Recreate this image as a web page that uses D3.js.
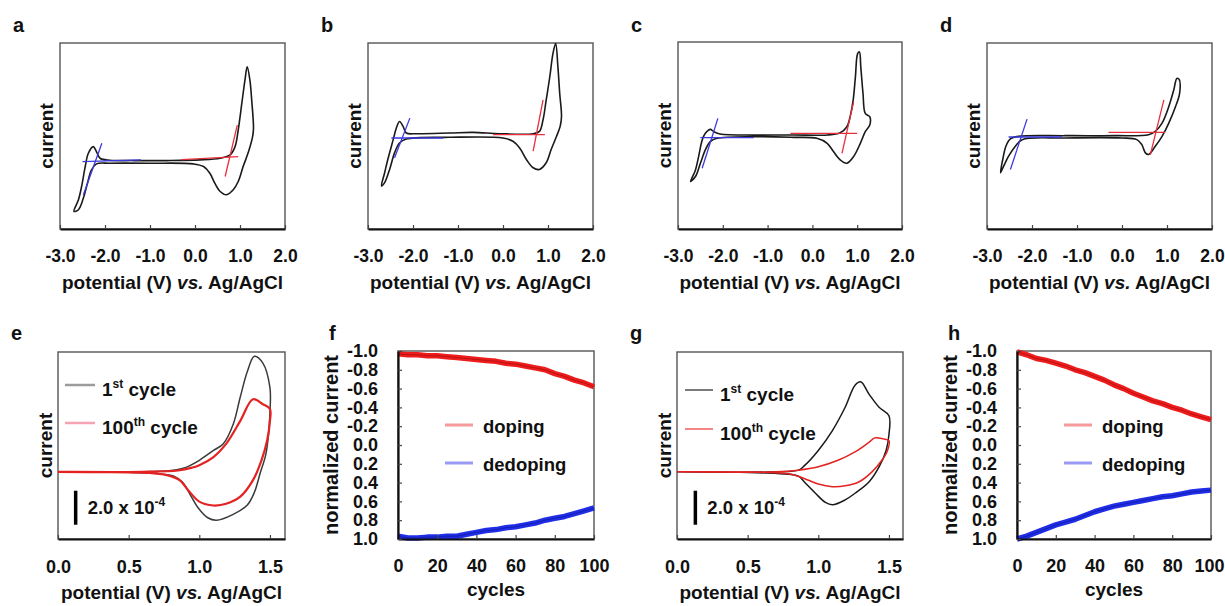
<!DOCTYPE html>
<html>
<head>
<meta charset="utf-8">
<script src="https://cdn.jsdelivr.net/npm/d3@7"></script>
<style>
  body { margin: 0; background: #fff; }
  svg text { font-family: "Liberation Sans", Arial, sans-serif; font-weight: bold; fill: #111; }
</style>
</head>
<body>
<svg id="fig" width="1225" height="606"></svg>
<script>
// ---- data ----
// top row cyclic voltammograms, [potential V, current (arb.)]
const cvA = [[-2.69,-1.50],[-2.59,-1.15],[-2.52,-0.75],[-2.44,-0.15],[-2.37,0.25],[-2.26,0.45],[-2.19,0.30],[-2.11,0.10],
  [-1.89,0.04],[-1.37,0.03],[-0.63,0.03],[0.11,0.05],[0.56,0.10],[0.78,0.20],[0.89,0.45],[0.96,0.95],[1.04,1.75],
  [1.11,2.45],[1.16,2.85],[1.22,2.45],[1.26,1.85],[1.30,1.00],[1.28,0.75],[1.19,0.30],[1.07,-0.15],[0.96,-0.60],
  [0.85,-0.85],[0.70,-1.00],[0.56,-0.90],[0.44,-0.65],[0.33,-0.35],[0.19,-0.15],[-0.04,-0.07],[-1.00,-0.05],
  [-1.89,-0.05],[-2.19,-0.07],[-2.30,-0.25],[-2.39,-0.65],[-2.48,-1.10],[-2.59,-1.45]];
const cvB = [[-2.70,-1.50],[-2.63,-1.10],[-2.56,-0.70],[-2.44,-0.10],[-2.37,0.25],[-2.30,0.45],[-2.22,0.30],[-2.15,0.10],
  [-1.93,0.08],[-1.19,0.10],[-0.67,0.12],[-0.07,0.08],[0.67,0.08],[0.81,0.15],[0.89,0.50],[0.96,1.10],[1.04,1.80],
  [1.11,2.50],[1.17,2.80],[1.22,2.10],[1.26,1.30],[1.30,0.60],[1.27,0.30],[1.19,0.00],[1.07,-0.40],[0.96,-0.80],
  [0.81,-1.00],[0.67,-0.95],[0.52,-0.70],[0.37,-0.35],[0.22,-0.15],[0.00,-0.05],[-1.19,-0.03],[-2.15,-0.08],
  [-2.30,-0.20],[-2.41,-0.50],[-2.52,-1.00],[-2.63,-1.40]];
const cvC = [[-2.72,-1.40],[-2.61,-1.05],[-2.54,-0.65],[-2.46,-0.15],[-2.39,0.05],[-2.28,0.17],[-2.20,0.10],[-2.06,0.03],
  [-1.16,0.00],[-0.42,0.00],[0.33,0.00],[0.62,0.07],[0.77,0.25],[0.85,0.60],[0.91,1.05],[0.96,1.75],[1.01,2.45],
  [1.05,2.50],[1.08,2.05],[1.13,1.25],[1.18,0.65],[1.28,0.55],[1.28,0.30],[1.18,0.10],[1.07,-0.25],[0.92,-0.65],
  [0.77,-0.85],[0.62,-0.75],[0.47,-0.50],[0.33,-0.25],[0.10,-0.10],[-0.42,-0.07],[-1.31,-0.05],[-2.13,-0.10],
  [-2.28,-0.20],[-2.39,-0.45],[-2.50,-0.85],[-2.61,-1.25]];
const cvD = [[-2.70,-1.10],[-2.65,-0.70],[-2.58,-0.30],[-2.48,-0.08],[-2.30,0.00],[-1.26,0.02],[-0.15,0.02],[0.59,0.05],
  [0.74,0.15],[0.89,0.40],[1.04,0.90],[1.15,1.40],[1.22,1.75],[1.27,1.72],[1.28,1.30],[1.19,0.90],[1.04,0.40],
  [0.89,0.00],[0.74,-0.30],[0.59,-0.55],[0.52,-0.50],[0.44,-0.25],[0.33,-0.10],[0.00,-0.05],[-1.26,-0.05],
  [-2.22,-0.10],[-2.37,-0.30],[-2.52,-0.60],[-2.63,-0.90]];

// onset tangent lines (red = doping, blue = dedoping)
const redTangentsA = [[[-0.30,0.06],[0.96,0.15]], [[0.67,-0.45],[0.94,1.10]]];
const blueTangentsA = [[[-2.50,0.00],[-1.20,0.05]], [[-2.48,-1.00],[-2.07,0.55]]];
const redTangentsB = [[[-0.22,0.05],[0.93,0.05]], [[0.67,-0.45],[0.89,1.10]]];
const blueTangentsB = [[[-2.48,-0.05],[-1.33,-0.05]], [[-2.41,-0.65],[-2.07,0.55]]];
const redTangentsC = [[[-0.49,0.05],[1.00,0.05]], [[0.66,-0.55],[0.92,1.00]]];
const blueTangentsC = [[[-2.50,-0.08],[-1.31,-0.08]], [[-2.46,-1.00],[-2.11,0.50]]];
const redTangentsD = [[[-0.30,0.12],[0.96,0.12]], [[0.63,-0.55],[0.93,1.10]]];
const blueTangentsD = [[[-2.52,-0.02],[-1.33,-0.02]], [[-2.48,-1.00],[-2.11,0.52]]];

// bottom row CVs, current in units of 1e-4
const e1st = [[0,0],[0.5,0.0],[0.8,0.08],[0.9,0.25],[1.0,0.68],[1.1,1.26],[1.17,1.65],[1.24,2.8],[1.29,4.4],[1.34,5.9],
  [1.39,6.8],[1.45,6.4],[1.5,4.95],[1.5,3.5],[1.49,2.2],[1.47,1.0],[1.43,-0.1],[1.39,-1.2],[1.34,-1.95],[1.24,-2.5],
  [1.12,-2.85],[1.06,-2.7],[0.99,-2.1],[0.93,-1.26],[0.88,-0.6],[0.82,-0.25],[0.7,-0.1],[0.5,-0.03],[0,0]];
const e100th = [[0,0],[0.6,0.0],[0.85,0.08],[0.95,0.25],[1.0,0.39],[1.1,0.87],[1.19,1.65],[1.29,3.0],[1.38,4.27],
  [1.45,3.98],[1.5,3.7],[1.5,3.0],[1.48,1.84],[1.44,0.68],[1.38,-0.49],[1.29,-1.46],[1.19,-1.88],[1.1,-1.98],
  [1.0,-1.75],[0.93,-1.17],[0.86,-0.49],[0.77,-0.19],[0.63,-0.06],[0,0]];
const g1st = [[0,0],[0.7,0.0],[0.86,0.1],[0.9,0.35],[1.0,1.26],[1.1,2.43],[1.19,3.8],[1.26,5.1],[1.3,5.3],[1.36,4.56],
  [1.43,3.8],[1.5,3.3],[1.5,2.2],[1.48,1.26],[1.43,0.29],[1.36,-0.58],[1.26,-1.26],[1.19,-1.65],[1.1,-1.94],
  [1.05,-1.8],[0.98,-1.26],[0.9,-0.58],[0.86,-0.25],[0.71,-0.1],[0,0]];
const g100th = [[0,0],[0.7,0.0],[0.86,0.1],[1.0,0.3],[1.14,0.68],[1.26,1.17],[1.36,1.75],[1.4,2.0],[1.46,1.94],
  [1.5,1.84],[1.49,1.26],[1.45,0.68],[1.38,0.0],[1.29,-0.58],[1.19,-0.82],[1.1,-0.87],[1.0,-0.72],[0.9,-0.39],
  [0.81,-0.14],[0.67,-0.04],[0,0]];

// normalized current vs cycle number
const cycles = [0,5,10,15,20,25,30,35,40,45,50,55,60,65,70,75,80,85,90,95,100];
const fDoping = [-0.97,-0.96,-0.96,-0.95,-0.95,-0.94,-0.93,-0.92,-0.91,-0.90,-0.89,-0.87,-0.86,-0.84,-0.82,-0.80,-0.76,-0.73,-0.69,-0.66,-0.62];
const fDedoping = [0.97,0.99,0.99,0.98,0.98,0.97,0.97,0.95,0.93,0.91,0.90,0.88,0.87,0.85,0.83,0.80,0.78,0.76,0.73,0.70,0.67];
const hDoping = [-0.99,-0.96,-0.92,-0.90,-0.87,-0.84,-0.80,-0.77,-0.73,-0.69,-0.64,-0.60,-0.55,-0.51,-0.47,-0.44,-0.40,-0.37,-0.33,-0.30,-0.27];
const hDedoping = [1.00,0.97,0.93,0.89,0.85,0.82,0.79,0.75,0.71,0.68,0.65,0.63,0.61,0.59,0.57,0.55,0.54,0.52,0.50,0.49,0.48];

// tick labels
const cvTicks = [-3, -2, -1, 0, 1, 2];
const zoomTicks = [0, 0.5, 1.0, 1.5];
const cycleTicks = [0, 20, 40, 60, 80, 100];
const normTicks = [-1.0, -0.8, -0.6, -0.4, -0.2, 0.0, 0.2, 0.4, 0.6, 0.8, 1.0];

const svg = d3.select("#fig");

// ---- helpers ----
function frame(box) {
  svg.append("rect")
    .attr("x", box.l).attr("y", box.t)
    .attr("width", box.r - box.l).attr("height", box.b - box.t)
    .attr("fill", "none").attr("stroke", "#555").attr("stroke-width", 1.4);
}

function styleAxis(g, size) {
  g.attr("font-size", null).attr("font-family", null);
  g.select(".domain").attr("stroke", "#111").attr("stroke-width", 2.2);
  g.selectAll(".tick line").attr("stroke", "#444").attr("stroke-width", 1.2);
  g.selectAll(".tick text").style("font-size", size + "px");
}

function letter(x, y, s) {
  svg.append("text").attr("x", x).attr("y", y).style("font-size", "20px").text(s);
}

function potentialTitle(box) {
  const t = svg.append("text")
    .attr("x", (box.l + box.r) / 2).attr("y", box.b + 60)
    .attr("text-anchor", "middle").style("font-size", "19px");
  t.append("tspan").text("potential (V) ");
  t.append("tspan").style("font-style", "italic").text("vs.");
  t.append("tspan").text(" Ag/AgCl");
}

function currentTitle(box, text, dx, size) {
  svg.append("text")
    .attr("transform", `translate(${box.l - dx},${(box.t + box.b) / 2}) rotate(-90)`)
    .attr("text-anchor", "middle").style("font-size", size + "px").text(text);
}

// ---- top row: CVs with onset tangents ----
function cvPanel(box, loop, redT, blueT, yDom, name) {
  const x = d3.scaleLinear().domain([-3, 2]).range([box.l, box.r]);
  const y = d3.scaleLinear().domain(yDom).range([box.b, box.t]);
  frame(box);

  const loopLine = d3.line().x(d => x(d[0])).y(d => y(d[1]))
    .curve(d3.curveCatmullRomClosed.alpha(0.5));
  svg.append("path").attr("d", loopLine(loop))
    .attr("fill", "none").attr("stroke", "#1a1a1a").attr("stroke-width", 1.6);

  const seg = d3.line().x(d => x(d[0])).y(d => y(d[1]));
  redT.forEach(s => svg.append("path").attr("d", seg(s))
    .attr("stroke", "#e8303c").attr("stroke-width", 1.3).attr("fill", "none"));
  blueT.forEach(s => svg.append("path").attr("d", seg(s))
    .attr("stroke", "#3a3ae0").attr("stroke-width", 1.3).attr("fill", "none"));

  const ax = svg.append("g").attr("transform", `translate(0,${box.b})`)
    .call(d3.axisBottom(x).tickValues(cvTicks).tickFormat(d => d.toFixed(1))
      .tickSizeInner(-4).tickSizeOuter(0).tickPadding(21));
  styleAxis(ax, 17.5);

  potentialTitle(box);
  currentTitle(box, "current", 7, 19);
  letter(box.l - 47, 32, name);
}

cvPanel({ l: 60, t: 43, r: 285, b: 229 }, cvA, redTangentsA, blueTangentsA, [-2.03, 3.57], "a");
cvPanel({ l: 368, t: 43, r: 593, b: 229 }, cvB, redTangentsB, blueTangentsB, [-2.8, 2.82], "b");
cvPanel({ l: 678, t: 42, r: 902, b: 229 }, cvC, redTangentsC, blueTangentsC, [-2.83, 2.8], "c");
cvPanel({ l: 987, t: 43, r: 1212, b: 229 }, cvD, redTangentsD, blueTangentsD, [-2.8, 2.82], "d");

// ---- bottom row: 1st vs 100th cycle ----
function cyclePanel(box, first, hundredth, leg, name) {
  const x = d3.scaleLinear().domain([0, (box.r - box.l) / 141.3]).range([box.l, box.r]);
  const y = d3.scaleLinear().domain([-3.95, 7.05]).range([box.b, box.t]);
  frame(box);

  const line = d3.line().x(d => x(d[0])).y(d => y(d[1])).curve(d3.curveCatmullRom.alpha(0.5));
  svg.append("path").attr("d", line(first)).attr("fill", "none")
    .attr("stroke", leg.firstColor).attr("stroke-width", 1.5);
  svg.append("path").attr("d", line(hundredth)).attr("fill", "none")
    .attr("stroke", "#e52222").attr("stroke-width", leg.redWidth);

  const ax = svg.append("g").attr("transform", `translate(0,${box.b})`)
    .call(d3.axisBottom(x).tickValues(zoomTicks).tickFormat(d => d.toFixed(1))
      .tickSizeInner(-4).tickSizeOuter(0).tickPadding(21));
  styleAxis(ax, 18);

  // scale bar: 2.0 x 10^-4
  svg.append("line")
    .attr("x1", x(leg.barV)).attr("x2", x(leg.barV))
    .attr("y1", y(-1.11)).attr("y2", y(-3.11))
    .attr("stroke", "#000").attr("stroke-width", 3.5);
  const sb = svg.append("text").attr("x", x(leg.barV) + 12).attr("y", y(-2.5)).style("font-size", "18.5px");
  sb.append("tspan").text("2.0 x 10");
  sb.append("tspan").attr("dy", -8).style("font-size", "12px").text("-4");

  // legend
  const items = [
    { label: "1", sup: "st", color: leg.legFirst, dy: 0 },
    { label: "100", sup: "th", color: leg.legRed, dy: leg.gap }
  ];
  items.forEach(it => {
    svg.append("line")
      .attr("x1", box.l + leg.lx0).attr("x2", box.l + leg.lx1)
      .attr("y1", box.t + leg.ly + it.dy).attr("y2", box.t + leg.ly + it.dy)
      .attr("stroke", it.color).attr("stroke-width", leg.legWidth);
    const t = svg.append("text").attr("x", box.l + leg.tx).attr("y", box.t + leg.ly + 11 + it.dy)
      .style("font-size", "19px");
    t.append("tspan").text(it.label);
    t.append("tspan").attr("dy", -8).style("font-size", "12px").text(it.sup);
    t.append("tspan").attr("dy", 8).text(" cycle");
  });

  potentialTitle(box);
  currentTitle(box, "current", 6, 19);
  letter(box.l - 47, 340, name);
}

cyclePanel({ l: 58, t: 352, r: 285, b: 539 }, e1st, e100th,
  { firstColor: "#3a3a3a", redWidth: 2.2, barV: 0.125, legFirst: "#9c9c9c", legRed: "#f4a3b4",
    legWidth: 2.5, lx0: 7, lx1: 37, ly: 33, tx: 44, gap: 38 }, "e");
cyclePanel({ l: 677, t: 352, r: 903, b: 539 }, g1st, g100th,
  { firstColor: "#1a1a1a", redWidth: 1.5, barV: 0.13, legFirst: "#222", legRed: "#e33",
    legWidth: 1.2, lx0: 8, lx1: 36, ly: 38, tx: 43, gap: 39 }, "g");

// ---- normalized current vs cycles ----
function normPanel(box, doping, dedoping, name) {
  const x = d3.scaleLinear().domain([0, 100]).range([box.l, box.r]);
  const y = d3.scaleLinear().domain([-1, 1]).range([box.t, box.b]);
  frame(box);

  const line = d3.line().x((d, i) => x(cycles[i])).y(d => y(d));
  [[doping, "#ee1c1c", "#5a0000"], [dedoping, "#1f2ee6", "#00004a"]].forEach(([vals, c, core]) => {
    svg.append("path").attr("d", line(vals)).attr("fill", "none")
      .attr("stroke", c).attr("stroke-width", 5.5).attr("stroke-linejoin", "round");
    svg.append("path").attr("d", line(vals)).attr("fill", "none")
      .attr("stroke", core).attr("stroke-width", 1).attr("opacity", 0.35);
  });

  const ax = svg.append("g").attr("transform", `translate(0,${box.b})`)
    .call(d3.axisBottom(x).tickValues(cycleTicks).tickSizeInner(-4).tickSizeOuter(0).tickPadding(20));
  styleAxis(ax, 18);
  // keep the last label inside the page
  ax.selectAll(".tick text").filter(d => d === 100).attr("dx", box.r > 1200 ? -2 : 0);
  const ay = svg.append("g").attr("transform", `translate(${box.l},0)`)
    .call(d3.axisLeft(y).tickValues(normTicks).tickFormat(d => d.toFixed(1))
      .tickSizeInner(-4).tickSizeOuter(0).tickPadding(20));
  styleAxis(ay, 18);

  // legend
  [["doping", "#f59a9a", 0], ["dedoping", "#9a9af5", 38]].forEach(([lab, c, dy]) => {
    svg.append("line")
      .attr("x1", box.l + 47).attr("x2", box.l + 75)
      .attr("y1", box.t + 74 + dy).attr("y2", box.t + 74 + dy)
      .attr("stroke", c).attr("stroke-width", 3);
    svg.append("text").attr("x", box.l + 85).attr("y", box.t + 82 + dy)
      .style("font-size", "18.5px").text(lab);
  });

  svg.append("text").attr("x", (box.l + box.r) / 2).attr("y", box.b + 57)
    .attr("text-anchor", "middle").style("font-size", "19px").text("cycles");
  currentTitle(box, "normalized current", 60, 20);
  letter(box.l - 69, 340, name);
}

normPanel({ l: 398, t: 351, r: 594, b: 539 }, fDoping, fDedoping, "f");
normPanel({ l: 1017, t: 351, r: 1211, b: 539 }, hDoping, hDedoping, "h");
</script>
</body>
</html>
